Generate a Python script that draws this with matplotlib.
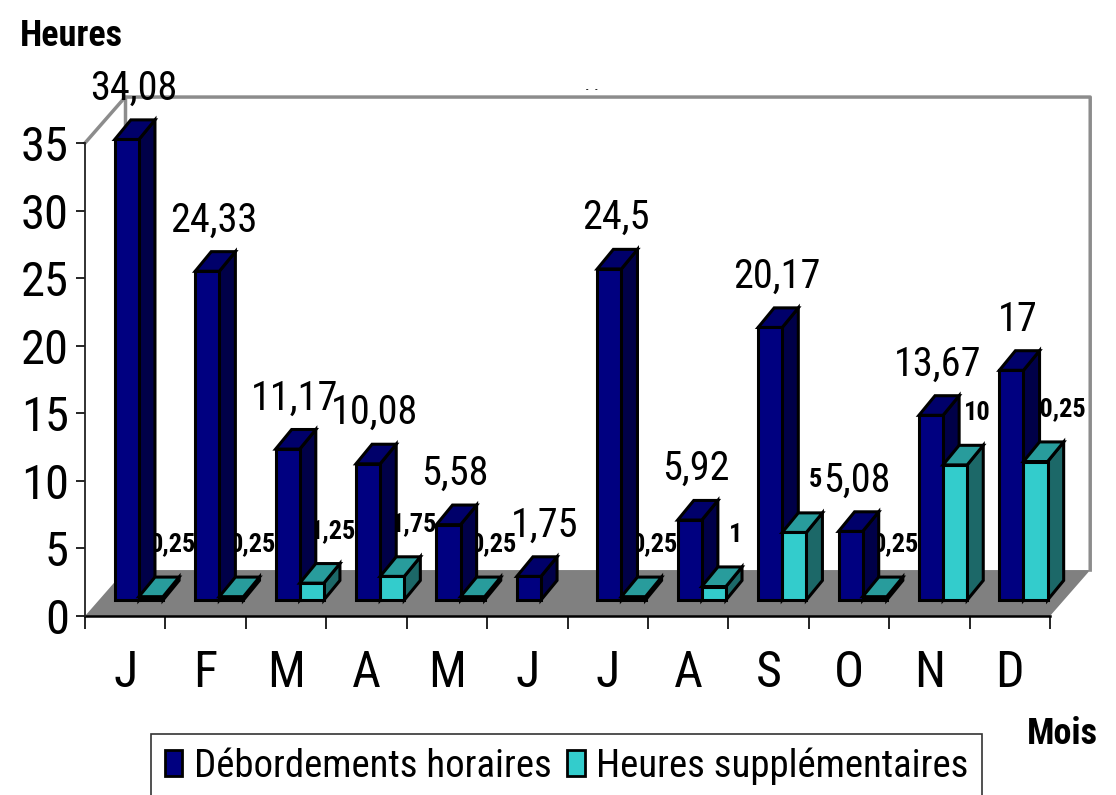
import matplotlib
matplotlib.use('Agg')
import matplotlib.pyplot as plt
from matplotlib.patches import Polygon, Patch
from matplotlib import font_manager

# donnees
mois = ['J', 'F', 'M', 'A', 'M', 'J', 'J', 'A', 'S', 'O', 'N', 'D']
debordements = [34.08, 24.33, 11.17, 10.08, 5.58, 1.75, 24.5, 5.92, 20.17, 5.08, 13.67, 17]
supplementaires = [0.25, 0.25, 1.25, 1.75, 0.25, None, 0.25, 1, 5, 0.25, 10, 10.25]
series = ['Débordements horaires', 'Heures supplémentaires']
graduations = [0, 5, 10, 15, 20, 25, 30, 35]

# couleurs (face avant, dessus, cote)
bleu = ['#000080', '#00006a', '#000048']
cyan = ['#33cccc', '#289c9c', '#1c6868']

# police etroite si dispo (type arial narrow)
fonts = font_manager.fontManager.ttflist
noms = set(f.name for f in fonts)
police, etroit = None, 1.0
for p in ['Liberation Sans Narrow', 'Arial Narrow', 'Roboto Condensed', 'Noto Sans Condensed',
          'Open Sans Condensed', 'Noto Sans Display Condensed']:
    if p in noms:
        police = p
        break
stretch = 'normal'
if police is None:
    # famille avec une variante condensee ?
    for fam in ['Noto Sans', 'Roboto', 'Open Sans', 'Liberation Sans']:
        if any(f.name == fam and f.stretch in ('condensed', 'semi-condensed', 'extra-condensed')
               for f in fonts):
            police, stretch = fam, 'condensed'
            break
if police is None:
    police, stretch, etroit = 'DejaVu Sans', 'condensed', 0.8
plt.rcParams['font.family'] = [police, 'DejaVu Sans']
plt.rcParams['font.stretch'] = stretch

W, H = 1116, 795
fig = plt.figure(figsize=(W / 100, H / 100), dpi=100)
ax = fig.add_axes([85 / W, (H - 616) / H, (1050 - 85) / W, (616 - 143) / H])
ax.set_xlim(0, 12)
ax.set_ylim(0, 35)

# profondeur du sol / mur, decalage des barres
prof_x, prof_y = 0.5, 3.4
decal_x, decal_y = 0.17, 1.18
bdx, bdy = 0.2, 1.45
largeur = 0.3

# sol gris
ax.add_patch(Polygon([(0, 0), (12, 0), (12 + prof_x, prof_y), (prof_x, prof_y)],
                     closed=True, fc='#808080', ec='none', zorder=0.5, clip_on=False))
# aretes du mur
gris = '#8c8c8c'
ax.plot([0, prof_x, 12 + prof_x, 12 + prof_x], [35, 35 + prof_y, 35 + prof_y, prof_y],
        color=gris, lw=2.5, clip_on=False, zorder=1)
ax.plot([prof_x, prof_x], [prof_y, 35 + prof_y], color=gris, lw=2.5, clip_on=False, zorder=1)


def boite(x0, v, coul, z):
    haut = decal_y + v
    x1 = x0 + largeur
    ax.add_patch(Polygon([(x1, decal_y), (x1 + bdx, decal_y + bdy), (x1 + bdx, haut + bdy), (x1, haut)],
                         closed=True, fc=coul[2], ec='black', lw=2.2, zorder=z, clip_on=False))
    ax.add_patch(Polygon([(x0, haut), (x1, haut), (x1 + bdx, haut + bdy), (x0 + bdx, haut + bdy)],
                         closed=True, fc=coul[1], ec='black', lw=2.2, zorder=z, clip_on=False))
    ax.bar(x0, v, width=largeur, bottom=decal_y, align='edge', color=coul[0],
           edgecolor='black', linewidth=2.2, zorder=z, clip_on=False)


def fmt(v):
    return ('%g' % v).replace('.', ',')


for i in range(len(mois)):
    centre = i + 0.5 + decal_x
    z = 10 + 2 * i
    v = debordements[i]
    s = supplementaires[i]
    boite(centre - largeur, v, bleu, z)
    # sans 2e serie l'etiquette est un peu plus a droite
    lx = centre - largeur / 2 + 0.08 + (0.12 if s is None else 0)
    ax.text(lx, decal_y + v + bdy + 0.9, fmt(v),
            ha='center', va='bottom', fontsize=29 * etroit, zorder=50, clip_on=False)
    if s is None:
        continue
    boite(centre, s, cyan, z + 1)
    ax.text(centre + largeur / 2 + bdx + 0.07, decal_y + s + bdy + 2.4, fmt(s),
            ha='center', va='center', fontsize=19 * etroit, fontweight='bold', zorder=5, clip_on=False)

# axes
for c in ['top', 'right']:
    ax.spines[c].set_visible(False)
ax.spines['left'].set_color('#222222')
ax.spines['left'].set_linewidth(1.3)
ax.spines['bottom'].set_color('black')
ax.spines['bottom'].set_linewidth(1.8)
ax.spines['bottom'].set_zorder(2)
ax.set_yticks(graduations)
ax.set_yticklabels([str(g) for g in graduations])
ax.tick_params(axis='y', direction='out', length=6.5, width=1.2, labelsize=35 * etroit, pad=5)
ax.set_xticks(range(13))
ax.set_xticklabels([])
ax.tick_params(axis='x', which='major', direction='out', length=9, width=1.2)
ax.set_xticks([i + 0.5 for i in range(12)], minor=True)
ax.set_xticklabels(mois, minor=True)
ax.tick_params(axis='x', which='minor', length=0, labelsize=36 * etroit, pad=24)
ax.set_facecolor('none')

fig.text(20 / W, 1 - 18 / H, 'Heures', fontsize=26, fontweight='bold', ha='left', va='top')
fig.text(1098 / W, 1 - 716 / H, 'Mois', fontsize=26, fontweight='bold', ha='right', va='top')
fig.text(592 / W, 1 - 90 / H, '-   -', fontsize=7, ha='center', va='center')

poignees = [Patch(fc=bleu[0], ec='black', lw=2), Patch(fc=cyan[0], ec='black', lw=2)]
leg = fig.legend(poignees, series, loc='upper left', bbox_to_anchor=(151 / W, 1 - 734 / H),
                 ncol=2, fontsize=28 * etroit, frameon=True, fancybox=False, edgecolor='black',
                 borderpad=0.35, handlelength=0.45, handleheight=0.65, handletextpad=0.3,
                 columnspacing=0.4, borderaxespad=0)
leg.get_frame().set_linewidth(1.2)

fig.savefig('out.png', dpi=100)
